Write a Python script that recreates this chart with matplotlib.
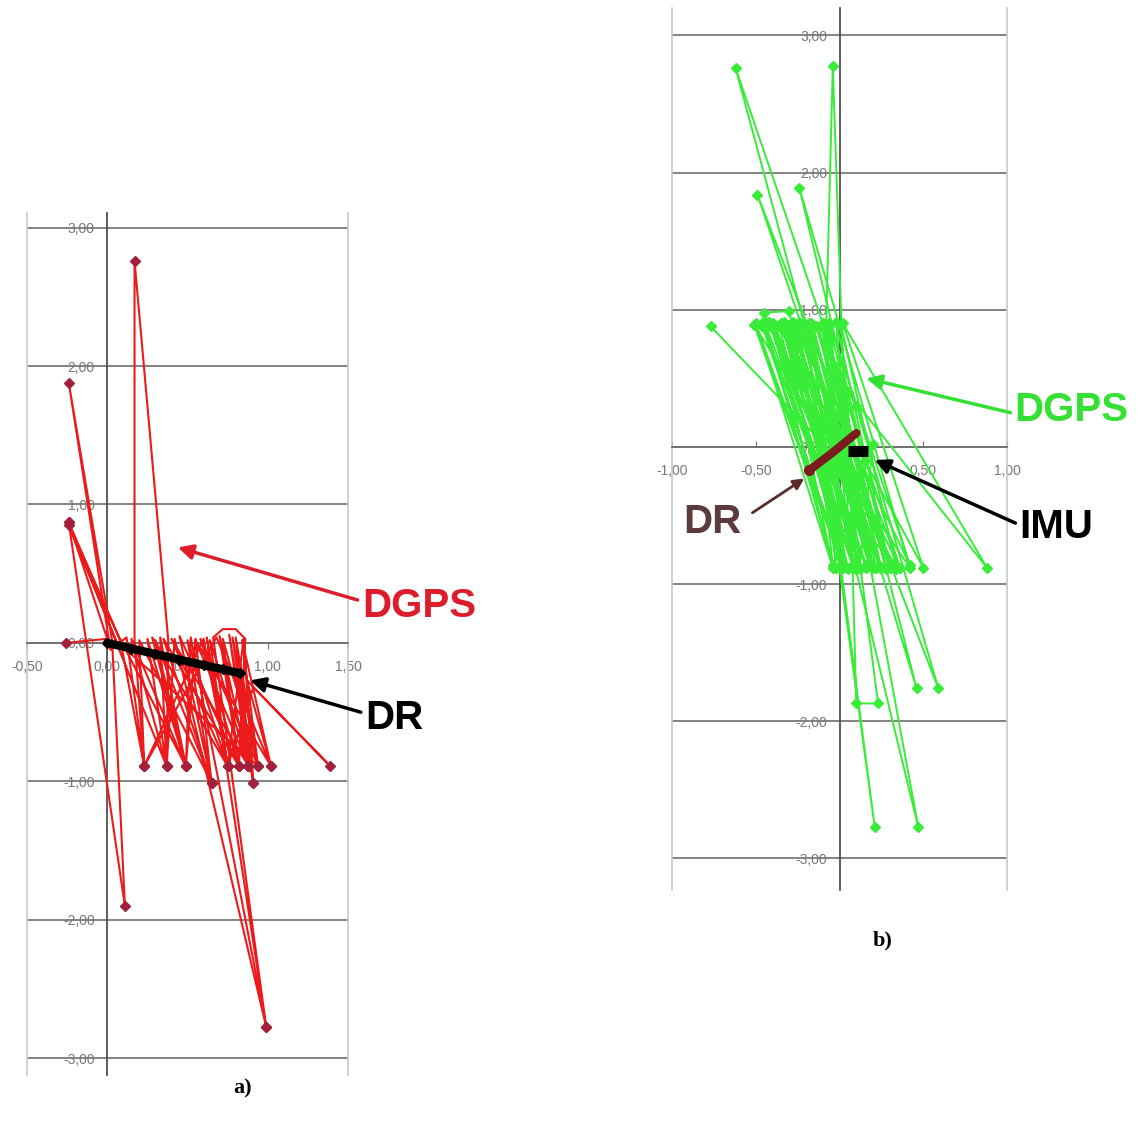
import matplotlib
matplotlib.use('Agg')
import matplotlib.pyplot as plt

# ---- panel a) DGPS + DR (read from the picture) ----
dgps_a_x = [-0.26, 0.00, -0.24, 0.06, -0.24, 0.10, -0.24, 0.11, 0.03, -0.24,
            0.02, 0.12, 0.23, 0.17, 0.17, 0.38, 0.37, 0.25, 0.49, 0.33,
            0.37, 0.42, 0.99, 0.52, 0.49, 0.55, 0.65, 0.50, 0.75, 0.62,
            0.99, 0.66, 0.72, 0.80, 0.86, 0.82, 0.70, 0.88, 0.76, 0.91,
            0.80, 0.94, 0.84, 1.02, 0.87, 1.39, 0.91, 0.75, 0.60, 0.23,
            0.08, 0.49, 0.30, 0.65, 0.45, 0.82, 0.72, 0.94, 0.05, 0.37,
            0.15, 0.49, 0.28, 0.75, 0.40, 0.88, 0.55, 1.02, 0.68, 0.23,
            0.20, 0.65, 0.35, 0.82, 0.58, 0.94, 0.78, 0.91, 0.85, 0.75,
            0.64, 0.88]
dgps_a_y = [0.00, 0.03, 0.87, 0.00, 0.85, -0.03, 0.87, -1.90, 0.02, 1.88,
            -0.05, 0.04, -0.89, 0.02, 2.76, 0.02, -0.89, 0.03, -0.89, 0.04,
            -0.89, 0.03, -2.77, 0.04, -0.89, 0.03, -1.01, 0.02, -0.89, 0.04,
            -2.77, 0.04, 0.10, 0.10, 0.03, -0.89, 0.05, -0.89, 0.06, -1.01,
            0.04, -0.89, 0.02, -0.89, -0.27, -0.89, -0.32, -0.89, 0.03, -0.89,
            0.03, -0.89, 0.02, -1.01, 0.05, -0.89, 0.03, -0.89, 0.02, -0.89,
            0.03, -0.89, 0.04, -0.89, 0.03, -0.89, 0.02, -0.89, 0.04, -0.89,
            0.02, -1.01, 0.03, -0.89, 0.03, -0.89, 0.04, -1.01, 0.03, -0.89,
            0.02, -0.89]
dr_a_x = [0.00, 0.15, 0.30, 0.45, 0.60, 0.72, 0.83]
dr_a_y = [0.00, -0.04, -0.08, -0.12, -0.16, -0.19, -0.22]
a_xticks = [-0.5, 0.0, 0.5, 1.0, 1.5]
a_xlabels = ['-0,50', '0,00', '0,50', '1,00', '1,50']

# ---- panel b) DGPS + DR + IMU ----
dgps_b_x = [-0.77, 0.00, -0.51, 0.02, -0.45, 0.08, -0.40, -0.04, -0.33, 0.12,
            -0.28, 0.18, -0.62, -0.08, 0.24, -0.22, 0.30, -0.18, 0.21, -0.12,
            0.47, -0.08, -0.04, 0.05, 0.36, -0.49, 0.10, 0.42, -0.24, 0.15,
            0.50, 0.02, 0.88, 0.05, 0.10, 0.23, -0.03, 0.46, 0.00, 0.59,
            0.10, -0.14, 0.30, -0.30, 0.10, -0.45, -0.04, -0.20, 0.20, -0.10,
            0.36, -0.36, 0.02, -0.26, 0.42, -0.06, 0.12, 0.20, -0.04,
            -0.50, 0.02, -0.46, 0.10, -0.42, 0.05, -0.38, 0.16, -0.35, 0.08,
            -0.31, 0.20, -0.27, 0.12, -0.24, 0.24, -0.20, -0.02, -0.16, 0.22,
            -0.13, 0.28, -0.10, 0.02, -0.06, 0.30, -0.02, 0.10, 0.01, 0.34,
            -0.40, 0.16, -0.33, 0.05, -0.25, 0.20, -0.17, 0.08, -0.09, 0.25,
            -0.45, -0.30, 0.00]
dgps_b_y = [0.88, -0.10, 0.89, -0.88, 0.87, -0.86, 0.90, -0.88, 0.88, -0.88,
            0.91, -0.87, 2.76, 0.83, -0.88, 0.87, -0.86, 0.90, -2.77, 0.20,
            -2.77, 0.88, 2.78, -0.50, -0.88, 1.84, -0.30, -0.88, 1.89, -0.10,
            -0.88, 0.90, -0.88, 0.40, -1.87, -1.87, 0.60, -1.76, 0.10, -1.76,
            0.30, 0.88, -0.88, 0.88, -0.88, 0.92, -0.86, 0.89, -0.87, 0.90,
            -0.88, 0.88, -0.88, 0.86, -0.86, 0.90, -0.88, 0.02, -0.88,
            0.90, -0.87, 0.88, -0.89, 0.91, -0.88, 0.87, -0.86, 0.90, -0.88,
            0.89, -0.88, 0.87, -0.89, 0.91, -0.87, 0.88, -0.88, 0.89, -0.88,
            0.87, -0.89, 0.90, -0.86, 0.88, -0.88, 0.91, -0.87, 0.88, -0.89,
            0.86, -0.88, 0.91, -0.89, 0.88, -0.86, 0.90, -0.88, 0.87, -0.88,
            0.98, 0.99, -0.80]
dr_b_x = [-0.18, -0.04, 0.10]
dr_b_y = [-0.17, -0.04, 0.10]
imu_b_x = [0.05, 0.17]
imu_b_y = [-0.03, -0.03]
b_xticks = [-1.0, -0.5, 0.0, 0.5, 1.0]
b_xlabels = ['-1,00', '-0,50', '0,00', '0,50', '1,00']

yticks = [-3, -2, -1, 0, 1, 2, 3]
ylabels = ['-3,00', '-2,00', '-1,00', '0,00', '1,00', '2,00', '3,00']


def setup(ax, xlim, ylim, xticks, xlabels, xdir, xpad):
    ax.set_xlim(xlim)
    ax.set_ylim(ylim)
    ax.set_axisbelow(True)
    ax.spines['top'].set_visible(False)
    ax.spines['right'].set_visible(False)
    ax.spines['left'].set_position(('data', 0))
    ax.spines['bottom'].set_position(('data', 0))
    ax.spines['left'].set_color('#505050')
    ax.spines['bottom'].set_color('#707070')
    ax.spines['left'].set_linewidth(1.3)
    ax.spines['bottom'].set_linewidth(1.3)
    ax.spines['left'].set_zorder(1)
    ax.spines['bottom'].set_zorder(1)
    ax.set_xticks(xticks, labels=xlabels)
    ax.set_yticks(yticks, labels=ylabels)
    ax.yaxis.grid(True, color='#6e6e6e', lw=1.2)
    ax.tick_params(axis='y', length=0, pad=9, labelsize=10, labelcolor='#777777')
    ax.tick_params(axis='x', direction=xdir, length=4, pad=xpad, labelsize=10,
                   labelcolor='#777777', color='#707070')
    for xv in xlim:
        ax.axvline(xv, color='#c8c8c8', lw=1.2, clip_on=False, zorder=1)


plt.rcParams['font.family'] = ['Liberation Sans', 'DejaVu Sans']
fig = plt.figure(figsize=(11.4, 11.3), dpi=100)

# ---- a) ----
ax_a = fig.add_axes([27 / 1140, 55 / 1130, 321 / 1140, 862 / 1130])
setup(ax_a, (-0.5, 1.5), (-3.12, 3.105), a_xticks, a_xlabels, 'out', 8)
mark_a = [i for i, y in enumerate(dgps_a_y) if abs(y) > 0.5 or dgps_a_x[i] < -0.2]
ax_a.plot(dgps_a_x, dgps_a_y, color='#ec1a1a', lw=1.5, marker='D', ms=5,
          mfc='#a3203a', mec='#a3203a', markevery=mark_a, zorder=3)
ax_a.plot(dr_a_x, dr_a_y, color='black', lw=6, marker='D', ms=5,
          solid_capstyle='round', zorder=4)

ax_a.text(1.59, 0.27, 'DGPS', color='#dd1c2c', fontsize=29, fontweight='bold',
          ha='left', va='center')
ax_a.annotate('', xy=(0.44, 0.69), xytext=(1.56, 0.31), annotation_clip=False,
              arrowprops=dict(arrowstyle='-|>', color='#dd1c2c', lw=2.5,
                              mutation_scale=22, shrinkA=0, shrinkB=0))
ax_a.text(1.61, -0.54, 'DR', color='black', fontsize=29, fontweight='bold',
          ha='left', va='center')
ax_a.annotate('', xy=(0.89, -0.27), xytext=(1.58, -0.50), annotation_clip=False,
              arrowprops=dict(arrowstyle='-|>', color='black', lw=2.5,
                              mutation_scale=22, shrinkA=0, shrinkB=0))

# ---- b) ----
ax_b = fig.add_axes([672 / 1140, 240 / 1130, 335 / 1140, 882 / 1130])
setup(ax_b, (-1.0, 1.0), (-3.23, 3.20), b_xticks, b_xlabels, 'in', 12)
ax_b.plot(dgps_b_x, dgps_b_y, color='#38ec38', lw=1.4, marker='D', ms=5,
          mfc='#38ec38', mec='#38ec38', zorder=3)
ax_b.plot(dr_b_x, dr_b_y, color='#7b1d1d', lw=6, marker='o', ms=7,
          markevery=[0], solid_capstyle='round', zorder=4)
ax_b.plot(imu_b_x, imu_b_y, color='black', lw=8, solid_capstyle='butt', zorder=5)

ax_b.text(1.045, 0.27, 'DGPS', color='#33e033', fontsize=29, fontweight='bold',
          ha='left', va='center')
ax_b.annotate('', xy=(0.16, 0.50), xytext=(1.02, 0.25), annotation_clip=False,
              arrowprops=dict(arrowstyle='-|>', color='#33e033', lw=2.5,
                              mutation_scale=22, shrinkA=0, shrinkB=0))
ax_b.text(-0.93, -0.55, 'DR', color='#5b3b3b', fontsize=29, fontweight='bold',
          ha='left', va='center')
ax_b.annotate('', xy=(-0.21, -0.23), xytext=(-0.52, -0.48), annotation_clip=False,
              arrowprops=dict(arrowstyle='-|>', color='#5b2b2b', lw=2,
                              mutation_scale=16, shrinkA=0, shrinkB=0))
ax_b.text(1.075, -0.58, 'IMU', color='black', fontsize=29, fontweight='bold',
          ha='left', va='center')
ax_b.annotate('', xy=(0.21, -0.095), xytext=(1.05, -0.555), annotation_clip=False,
              arrowprops=dict(arrowstyle='-|>', color='black', lw=2.5,
                              mutation_scale=22, shrinkA=0, shrinkB=0))

fig.text(243 / 1140, 1 - 1088 / 1130, 'a)', family='Liberation Serif',
         fontsize=16, fontweight='bold', ha='center', va='center')
fig.text(883 / 1140, 1 - 940 / 1130, 'b)', family='Liberation Serif',
         fontsize=16, fontweight='bold', ha='center', va='center')

fig.savefig('out.png', dpi=100, facecolor='white')
